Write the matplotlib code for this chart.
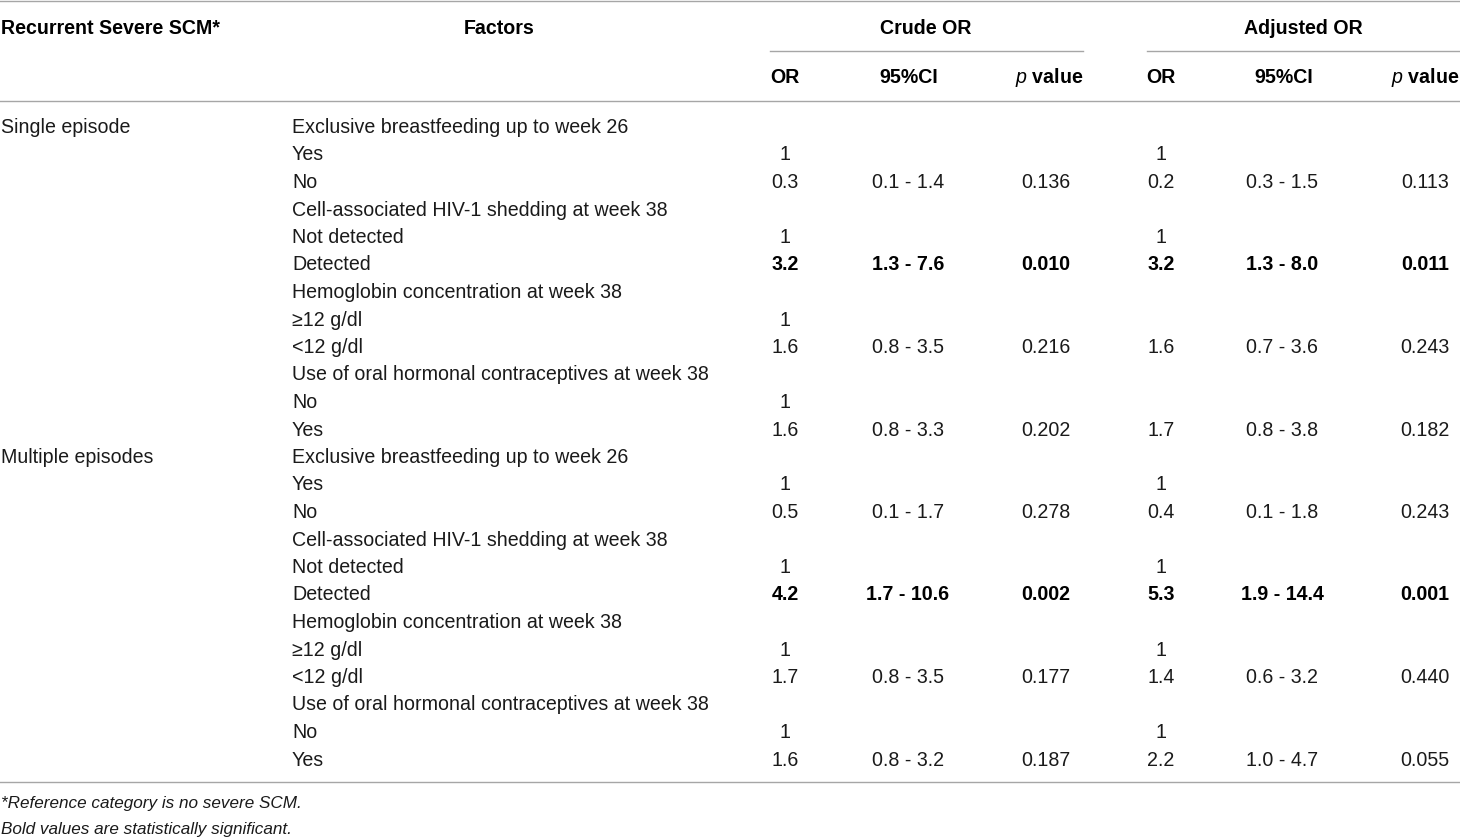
import matplotlib
matplotlib.use("Agg")
import matplotlib.pyplot as plt

plt.rcParams['font.family'] = ['Liberation Sans', 'DejaVu Sans']
plt.rcParams['mathtext.fontset'] = 'custom'
plt.rcParams['mathtext.it'] = 'Liberation Sans:italic'
plt.rcParams['mathtext.rm'] = 'Liberation Sans'

# ---------------- data ----------------
groups = ["Single episode", "Multiple episodes"]
factors = ["Exclusive breastfeeding up to week 26", "Yes", "No",
           "Cell-associated HIV-1 shedding at week 38", "Not detected", "Detected",
           "Hemoglobin concentration at week 38", "\u226512 g/dl", "<12 g/dl",
           "Use of oral hormonal contraceptives at week 38", "No", "Yes"]

single_crude_or = ["", "1", "0.3", "", "1", "3.2", "", "1", "1.6", "", "1", "1.6"]
single_crude_ci = ["", "", "0.1 - 1.4", "", "", "1.3 - 7.6", "", "", "0.8 - 3.5", "", "", "0.8 - 3.3"]
single_crude_p = ["", "", "0.136", "", "", "0.010", "", "", "0.216", "", "", "0.202"]
single_adj_or = ["", "1", "0.2", "", "1", "3.2", "", "", "1.6", "", "", "1.7"]
single_adj_ci = ["", "", "0.3 - 1.5", "", "", "1.3 - 8.0", "", "", "0.7 - 3.6", "", "", "0.8 - 3.8"]
single_adj_p = ["", "", "0.113", "", "", "0.011", "", "", "0.243", "", "", "0.182"]

multi_crude_or = ["", "1", "0.5", "", "1", "4.2", "", "1", "1.7", "", "1", "1.6"]
multi_crude_ci = ["", "", "0.1 - 1.7", "", "", "1.7 - 10.6", "", "", "0.8 - 3.5", "", "", "0.8 - 3.2"]
multi_crude_p = ["", "", "0.278", "", "", "0.002", "", "", "0.177", "", "", "0.187"]
multi_adj_or = ["", "1", "0.4", "", "1", "5.3", "", "1", "1.4", "", "1", "2.2"]
multi_adj_ci = ["", "", "0.1 - 1.8", "", "", "1.9 - 14.4", "", "", "0.6 - 3.2", "", "", "1.0 - 4.7"]
multi_adj_p = ["", "", "0.243", "", "", "0.001", "", "", "0.440", "", "", "0.055"]

bold_factor = "Detected"  # statistically significant rows

header_main = ["Recurrent Severe SCM*", "Factors", "Crude OR", "Adjusted OR"]
header_sub = ["OR", "95%CI", r"$\it{p}$ value"]
footnotes = ["*Reference category is no severe SCM.",
             "Bold values are statistically significant."]

# ---------------- layout ----------------
W, H = 1460, 839
fig = plt.figure(figsize=(W / 100, H / 100), dpi=100)
ax = fig.add_axes([0, 0, 1, 1])
ax.set_xlim(0, W)
ax.set_ylim(H, 0)
ax.axis('off')

FS = 14.1
TXT = '#1a1a1a'
LINE = '#a6a6a6'
LW = 1.0

x_group = 1
x_factor = 292
crude_cols = [785, 908, 1046]
adj_cols = [1161, 1282, 1425]
crude_hdr = [785, 909, 1083]
adj_hdr = [1161, 1284, 1459]

yo = 1.5
y_hdr1, y_hdr2 = 27 + yo, 76 + yo
y0, dy = 126 + yo, 27.5

# lines
ax.plot([0, W], [1, 1], color=LINE, lw=LW)
ax.plot([770, 1083], [50.5, 50.5], color=LINE, lw=LW)
ax.plot([1147, W], [50.5, 50.5], color=LINE, lw=LW)
ax.plot([0, W], [100.5, 100.5], color=LINE, lw=LW)
ax.plot([0, W], [782, 782], color=LINE, lw=LW)

# headers
ax.text(x_group, y_hdr1, header_main[0], fontsize=FS, fontweight='bold', va='center', ha='left', color='black')
ax.text(499, y_hdr1, header_main[1], fontsize=FS, fontweight='bold', va='center', ha='center', color='black')
ax.text(926, y_hdr1, header_main[2], fontsize=FS, fontweight='bold', va='center', ha='center', color='black')
ax.text(1303, y_hdr1, header_main[3], fontsize=FS, fontweight='bold', va='center', ha='center', color='black')
for xs in (crude_hdr, adj_hdr):
    ax.text(xs[0], y_hdr2, header_sub[0], fontsize=FS, fontweight='bold', va='center', ha='center', color='black')
    ax.text(xs[1], y_hdr2, header_sub[1], fontsize=FS, fontweight='bold', va='center', ha='center', color='black')
    ax.text(xs[2], y_hdr2, header_sub[2], fontsize=FS, fontweight='bold', va='center', ha='right', color='black')

group_data = [
    (single_crude_or, single_crude_ci, single_crude_p, single_adj_or, single_adj_ci, single_adj_p),
    (multi_crude_or, multi_crude_ci, multi_crude_p, multi_adj_or, multi_adj_ci, multi_adj_p),
]

row = 0
for g, cols in zip(groups, group_data):
    ax.text(x_group, y0 + row * dy, g, fontsize=FS, va='center', ha='left', color=TXT)
    for i, f in enumerate(factors):
        y = y0 + (row + i) * dy
        ax.text(x_factor, y, f, fontsize=FS, va='center', ha='left', color=TXT)
        w = 'bold' if f == bold_factor else 'normal'
        c = 'black' if w == 'bold' else TXT
        xs = crude_cols + adj_cols
        for x, col in zip(xs, cols):
            if col[i]:
                ax.text(x, y, col[i], fontsize=FS, fontweight=w, va='center', ha='center', color=c)
    row += len(factors)

ax.text(x_group, 802 + yo, footnotes[0], fontsize=12.3, style='italic', va='center', ha='left', color=TXT)
ax.text(x_group, 828 + yo, footnotes[1], fontsize=12.3, style='italic', va='center', ha='left', color=TXT)

fig.savefig("out.png", dpi=100, facecolor='white')
